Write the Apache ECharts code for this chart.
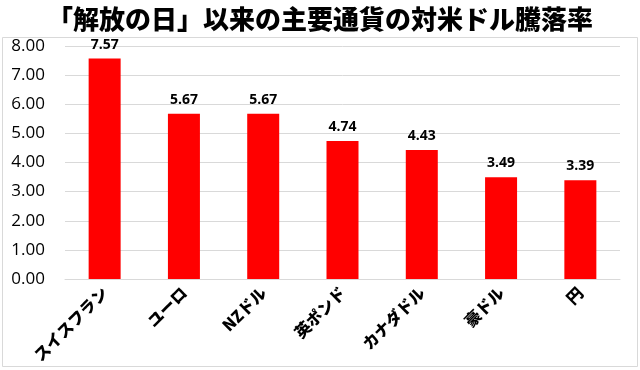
<!DOCTYPE html>
<html><head><meta charset="utf-8">
<script src="https://cdn.jsdelivr.net/npm/echarts@6/dist/echarts.min.js"></script>
<style>html,body{margin:0;padding:0;background:#fff}#c{width:640px;height:370px}</style>
</head><body><div id="c"></div>
<script>
const titleText = '「解放の日」以来の主要通貨の対米ドル騰落率';
const categories = ['スイスフラン','ユーロ','NZドル','英ポンド','カナダドル','豪ドル','円'];
const values = [7.57, 5.67, 5.67, 4.74, 4.43, 3.49, 3.39];
const yTicks = [0, 1, 2, 3, 4, 5, 6, 7, 8];

const chart = echarts.init(document.getElementById('c'));
chart.setOption({
  animation: false,
  backgroundColor: '#fff',
  title: {
    text: titleText, left: 'center', top: 1,
    textStyle: {fontFamily: 'Noto Sans CJK JP', fontWeight: 900, fontSize: 26, color: '#000'}
  },
  graphic: [{type: 'rect', shape: {x: 2.5, y: 37.5, width: 635, height: 329}, style: {fill: 'none', stroke: '#d9d9d9', lineWidth: 1}, silent: true}],
  grid: {left: 65, right: 20, top: 46, bottom: 91, containLabel: false},
  xAxis: {
    type: 'category', data: categories,
    axisLine: {show: true, lineStyle: {color: '#d9d9d9'}},
    axisTick: {show: false},
    axisLabel: {rotate: 45, interval: 0, margin: 11, color: '#000', fontWeight: 900, fontSize: 16, fontFamily: 'Noto Sans CJK JP'}
  },
  yAxis: {
    type: 'value', min: yTicks[0], max: yTicks[yTicks.length - 1], interval: 1,
    axisLine: {show: false}, axisTick: {show: false},
    splitLine: {lineStyle: {color: '#d9d9d9'}},
    axisLabel: {formatter: v => v.toFixed(2), color: '#000', fontSize: 17, margin: 20, fontFamily: 'Open Sans'}
  },
  series: [{
    type: 'bar', data: values, barWidth: 32,
    itemStyle: {color: '#ff0000'},
    label: {show: true, position: 'top', distance: 7, formatter: p => p.value.toFixed(2), color: '#000', fontWeight: 'bold', fontSize: 14, fontFamily: 'Open Sans'}
  }]
});
</script></body></html>
